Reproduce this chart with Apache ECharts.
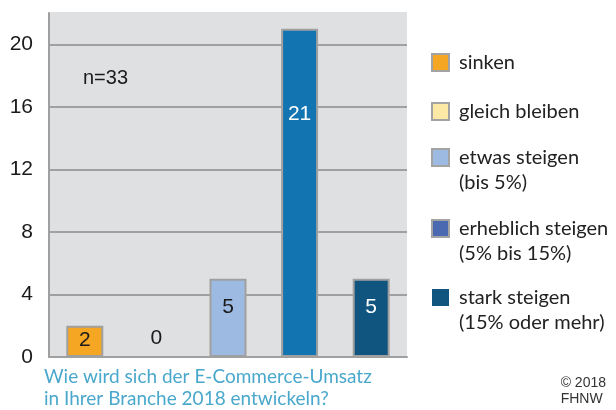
<!DOCTYPE html>
<html>
<head>
<meta charset="utf-8">
<script src="https://cdn.jsdelivr.net/npm/echarts@6/dist/echarts.min.js"></script>
<style>
  html, body { margin: 0; padding: 0; background: #fff; }
  #chart { width: 616px; height: 410px; }
</style>
</head>
<body>
<div id="chart"></div>
<script>
// data
const names = ['sinken', 'gleich bleiben', 'etwas steigen\n(bis 5%)', 'erheblich steigen\n(5% bis 15%)', 'stark steigen\n(15% oder mehr)'];
const counts = [2, 0, 5, 21, 5];
const sampleText = 'n=33';
const question = 'Wie wird sich der E-Commerce-Umsatz\nin Ihrer Branche 2018 entwickeln?';

// styling
const barColors = ['#f5a623', '#fce9a6', '#9dbbe2', '#1274b0', '#0f5580'];
const legendColors = ['#f5a623', '#fce9a6', '#9dbbe2', '#4a69b0', '#0f5580'];
const legendBorders = ['#a3a3a3', '#a3a3a3', '#a3a3a3', '#a3a3a3', 'transparent'];
const labelColors = ['#1a1a1a', '#1a1a1a', '#1a1a1a', '#ffffff', '#ffffff'];
const labelPos = [['50%', '45%'], 'top', ['50%', '36%'], ['50%', '26%'], ['50%', '36%']];
const legendIconTops = [50, 99, 149, 220, 289];
const legendLineH = 25;
const bgColor = '#dfe0e2';
const lineGray = '#a0a0a0';
const uiFont = 'Lato';

const chart = echarts.init(document.getElementById('chart'), null, { renderer: 'canvas' });

const series = names.map((name, k) => ({
  name: name,
  type: 'bar',
  stack: 'all',
  barWidth: 37,
  itemStyle: {
    color: barColors[k],
    borderColor: lineGray,
    borderWidth: 2
  },
  label: {
    show: true,
    position: labelPos[k],
    distance: 18,
    align: 'center',
    verticalAlign: 'middle',
    color: labelColors[k],
    fontFamily: 'Liberation Sans',
    fontSize: 21
  },
  data: counts.map((v, i) => (i === k ? v : '-'))
}));

// one legend per entry so that two-line names keep the box on their first line
const legends = names.map((name, k) => {
  const twoLines = name.indexOf('\n') >= 0;
  return {
    orient: 'vertical',
    left: 431,
    top: twoLines ? legendIconTops[k] - (legendLineH * 1.5 - 8.5) : legendIconTops[k],
    padding: 0,
    itemWidth: 17,
    itemHeight: 17,
    data: [{
      name: name,
      icon: 'rect',
      itemStyle: { color: legendColors[k], borderColor: legendBorders[k], borderWidth: 2 }
    }],
    selectedMode: false,
    formatter: n => (n.indexOf('\n') >= 0 ? '\n' + n : n),
    textStyle: {
      fontFamily: uiFont,
      fontSize: 20,
      lineHeight: legendLineH,
      padding: [0, 0, 0, 5],
      color: '#222'
    }
  };
});

const option = {
  backgroundColor: '#fff',
  animation: false,
  grid: {
    left: 49,
    right: 209,
    top: 13,
    bottom: 53,
    show: true,
    backgroundColor: bgColor,
    borderWidth: 0
  },
  legend: legends,
  xAxis: {
    type: 'category',
    data: names,
    axisLine: { lineStyle: { color: lineGray, width: 2 } },
    axisTick: { show: false },
    axisLabel: { show: false }
  },
  yAxis: {
    type: 'value',
    min: 0,
    max: 22,
    interval: 4,
    axisLine: { show: true, lineStyle: { color: lineGray, width: 2 } },
    axisTick: { show: false },
    axisLabel: {
      showMaxLabel: false,
      margin: 16,
      color: '#1a1a1a',
      fontFamily: 'Liberation Sans',
      fontSize: 21
    },
    splitLine: {
      lineStyle: {
        color: [lineGray, lineGray, lineGray, lineGray, lineGray, lineGray, bgColor],
        width: 2
      }
    }
  },
  graphic: [
    {
      type: 'text',
      left: 83,
      top: 68,
      style: { text: sampleText, fill: '#1a1a1a', font: '20px "Liberation Sans"' }
    },
    {
      type: 'text',
      left: 44,
      top: 366,
      style: { text: question, fill: '#4aa8cc', font: '19px Lato', lineHeight: 22 }
    },
    {
      type: 'text',
      right: 10,
      top: 375,
      style: { text: '© 2018\nFHNW', fill: '#333', font: '14px "Liberation Sans"', lineHeight: 16, align: 'center' }
    }
  ],
  series: series
};

chart.setOption(option);
</script>
</body>
</html>
